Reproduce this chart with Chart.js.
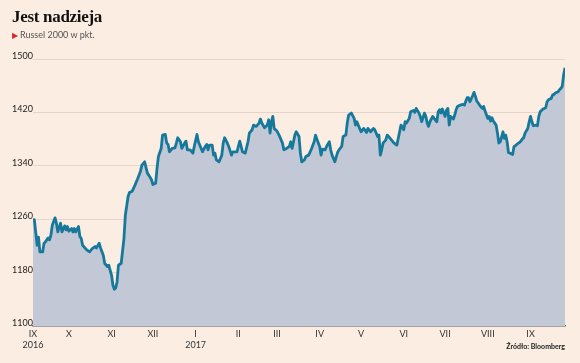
<!DOCTYPE html>
<html>
<head>
<meta charset="utf-8">
<script src="https://cdn.jsdelivr.net/npm/chart.js@4.4.0/dist/chart.umd.min.js"></script>
<style>
  html, body { margin: 0; padding: 0; background: #fbede1; }
  #wrap { position: relative; width: 580px; height: 363px; overflow: hidden; }
  #title { position: absolute; left: 12px; top: 7px; font: bold 17px "Liberation Serif", serif; color: #111; letter-spacing: -0.3px; }
  #sub { position: absolute; left: 12px; top: 29px; font: 9px Lato, sans-serif; color: #555; }
  #sub span { color: #d62b2b; font-size: 8px; margin-right: 2px; }
  #src { position: absolute; right: 15px; top: 342px; font: bold 7px Lato, sans-serif; color: #222; }
  canvas { position: absolute; left: 0; top: 0; }
</style>
</head>
<body>
<div id="wrap">
  <canvas id="myChart" width="580" height="363"></canvas>
  <div id="title">Jest nadzieja</div>
  <div id="sub"><span>&#9654;</span>Russel 2000 w pkt.</div>
  <div id="src">Źródło: Bloomberg</div>
</div>
<script>
// days counted from 1 IX 2016
const days = [4,5,7,8,9,11,12,13,15,16,17,18,20,21,22,24,25,27,28,29,30,32,33,34,35,37,38,39,40,43,45,47,49,50,52,53,55,56,58,59,
  61,62,63,64,65,66,68,70,71,73,74,76,78,80,82,83,85,87,88,90,91,93,94,95,97,98,100,101,102,103,105,107,108,109,111,112,114,115,116,118,
  120,121,123,124,127,129,130,131,132,134,135,136,137,139,140,141,142,143,145,146,148,149,150,152,154,155,156,158,160,161,163,164,166,168,169,170,
  172,174,175,176,177,178,179,181,183,185,186,188,190,191,192,194,195,197,198,199,201,202,204,206,208,209,211,212,213,214,216,217,219,220,221,223,
  225,226,228,229,231,232,233,235,237,238,239,241,242,244,246,247,249,251,252,254,255,256,257,258,260,261,262,264,266,268,269,271,273,274,275,277,
  278,280,281,282,284,285,286,288,289,290,291,292,294,295,297,298,299,300,301,303,304,305,306,307,309,310,311,312,314,316,317,319,320,321,323,324,
  325,326,328,330,331,332,334,335,336,337,338,340,341,342,343,345,346,347,348,349,351,352,353,354,355,357,358,359,360,361,363,364,365,366,367,369,
  370,371,372,374,375,376,377,378,380,381,382,383,385,386,387,388,389,390];
const russell = [1260,1259,1221,1233,1211,1211,1224,1226,1232,1229,1236,1251,1262,1254,1241,1254,1241,1250,1244,1249,1242,1246,1241,1246,1241,1249,1234,1231,1221,1214,1211,1216,1219,1217,1224,1217,1206,1194,1189,1191,
  1176,1161,1155,1157,1166,1191,1194,1231,1266,1294,1300,1302,1311,1321,1332,1341,1346,1329,1326,1319,1312,1314,1336,1354,1366,1386,1387,1374,1372,1361,1366,1367,1374,1382,1376,1366,1374,1377,1364,1364,
  1359,1369,1387,1376,1361,1369,1372,1364,1371,1371,1356,1359,1349,1346,1351,1356,1374,1382,1374,1369,1356,1361,1361,1361,1377,1369,1361,1359,1376,1389,1394,1401,1399,1404,1410,1404,
  1397,1401,1409,1389,1406,1414,1396,1392,1384,1374,1364,1366,1369,1376,1366,1386,1391,1384,1359,1346,1349,1354,1356,1365,1376,1386,1374,1369,1356,1365,1364,1369,1376,1364,1356,1346,
  1360,1364,1369,1384,1386,1404,1416,1419,1411,1401,1406,1396,1391,1396,1390,1396,1391,1396,1394,1384,1386,1356,1364,1374,1379,1386,1384,1379,1374,1371,1381,1401,1394,1406,1404,1411,
  1421,1423,1420,1426,1419,1414,1406,1419,1414,1404,1399,1406,1414,1411,1406,1421,1424,1419,1425,1414,1423,1426,1401,1414,1410,1416,1424,1429,1431,1432,1431,1442,1442,1436,1445,1450,
  1444,1437,1431,1426,1429,1422,1411,1414,1407,1412,1407,1401,1389,1374,1376,1391,1381,1386,1376,1360,1358,1357,1369,1370,1372,1375,1377,1380,1382,1389,1396,1406,1414,1406,1400,1401,
  1400,1414,1421,1425,1426,1427,1436,1439,1441,1446,1447,1449,1451,1454,1456,1459,1476,1487];

const monthTicks = [4,30,61,91,122,153,181,212,242,273,303,334,365];
const monthLabels = [['IX','2016'],'X','XI','XII',['I','2017'],'II','III','IV','V','VI','VII','VIII','IX'];
const yTicks = [1100,1180,1260,1340,1420,1500];

const points = days.map((d, i) => ({ x: d, y: russell[i] }));

const ctx = document.getElementById('myChart').getContext('2d');
new Chart(ctx, {
    type: 'line',
    data: {
        datasets: [{
            data: points,
            borderColor: '#16789b',
            borderWidth: 2.8,
            borderJoinStyle: 'round',
            backgroundColor: '#c3c8d6',
            fill: 'start',
            pointRadius: 0,
            tension: 0
        }]
    },
    options: {
        responsive: false,
        animation: false,
        layout: { padding: { top: 59, right: 15, left: 12, bottom: 0 } },
        plugins: { legend: { display: false }, tooltip: { enabled: false } },
        scales: {
            x: {
                type: 'linear',
                min: 4,
                max: 390,
                afterBuildTicks: axis => { axis.ticks = monthTicks.map(v => ({ value: v })); },
                afterFit: axis => { axis.height = 37; },
                grid: { display: false, drawTicks: false },
                border: { display: true, color: '#6b6e78', width: 1.5 },
                ticks: {
                    autoSkip: false,
                    maxRotation: 0,
                    padding: 3,
                    color: '#333',
                    font: { family: 'Lato', size: 9 },
                    callback: (v) => monthLabels[monthTicks.indexOf(v)]
                }
            },
            y: {
                min: 1100,
                max: 1500,
                afterBuildTicks: axis => { axis.ticks = yTicks.map(v => ({ value: v })); },
                afterFit: axis => { axis.width = 21; },
                grid: { color: '#e6d6ca', lineWidth: 1, drawTicks: false },
                border: { display: false },
                ticks: {
                    crossAlign: 'far',
                    padding: 1,
                    labelOffset: -3,
                    color: '#222',
                    font: { family: 'Lato', size: 9 },
                    callback: (v) => String(v)
                }
            }
        }
    }
});
</script>
</body>
</html>
